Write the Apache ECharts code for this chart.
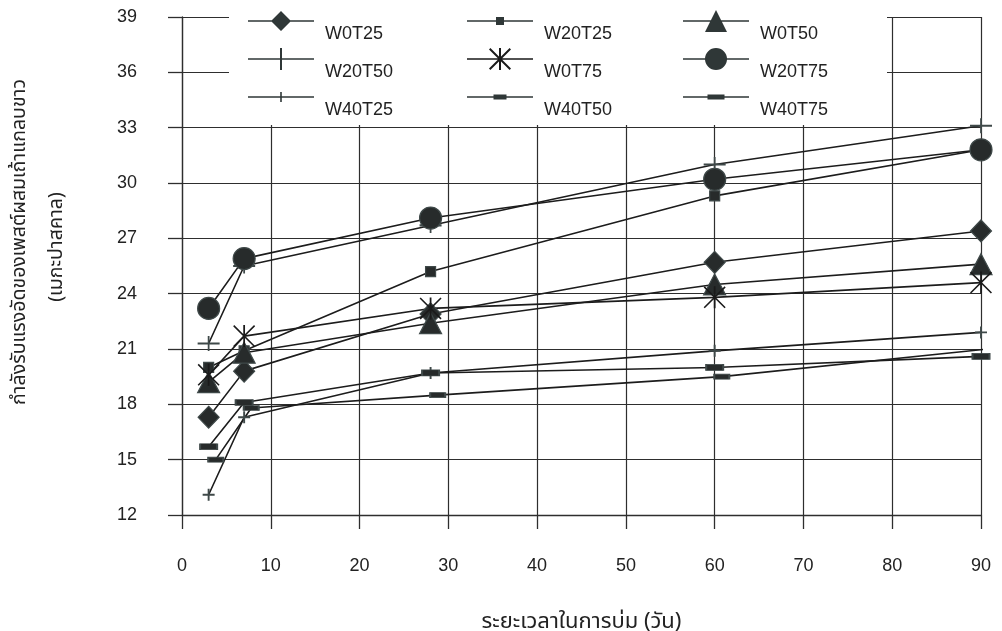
<!DOCTYPE html>
<html>
<head>
<meta charset="utf-8">
<script src="https://cdn.jsdelivr.net/npm/echarts@6/dist/echarts.min.js"></script>
<style>
  html, body { margin: 0; padding: 0; background: #fff; }
  #chart { width: 1002px; height: 631px; }
</style>
</head>
<body>
<div id="chart"></div>
<script>
// Curing age (days) at which each mix was tested
const days = [3, 7, 28, 60, 90];
const daysW40T50 = [3.8, 7.8, 28.8, 60.8, 90.7];

// Compressive strength (MPa) per mix
const W0T25  = [17.3, 19.8, 22.9, 25.7, 27.4];
const W20T25 = [20.0, 20.9, 25.2, 29.3, 31.8];
const W0T50  = [19.2, 20.8, 22.4, 24.5, 25.6];
const W20T50 = [21.3, 25.5, 27.7, 31.0, 33.1];
const W0T75  = [19.6, 21.7, 23.2, 23.8, 24.6];
const W20T75 = [23.2, 25.9, 28.1, 30.2, 31.8];
const W40T25 = [13.1, 17.3, 19.7, 20.9, 21.9];
const W40T50 = [15.0, 17.8, 18.5, 19.5, 21.0];
const W40T75 = [15.7, 18.1, 19.7, 20.0, 20.6];

// Axis ranges and tick steps
const xRange = [0, 90, 10];
const yRange = [12, 39, 3];

// Titles
const xTitle = 'ระยะเวลาในการบ่ม (วัน)';
const yTitle1 = 'กำลังรับแรงอัดของเพสต์ผสมเถ้าแกลบขาว';
const yTitle2 = '(เมกะปาสคาล)';

// Legend columns (row-major reading order across columns)
const legendCols = [
  ['W0T25', 'W20T50', 'W40T25'],
  ['W20T25', 'W0T75', 'W40T50'],
  ['W0T50', 'W20T75', 'W40T75']
];

// ---- styling ----
const FONT = '"Liberation Sans", Arial, Helvetica, sans-serif';
const THAI_FONT = '"Noto Sans Thai", "Loma", "Garuda", "Tlwg Typo", "Norasi", "Liberation Sans", sans-serif';
const LINE_COLOR = '#1c1c1c';
const FILL = '#272b2b';
const EDGE = '#3f4949';
const GRID = '#2e2e2e';

// Marker glyphs for the plot (unit box, stretched to symbolSize)
const PLUS_WIDE  = 'path://M0,43H100V57H0Z M46,0H54V100H46Z';
const PLUS_SMALL = 'path://M0,42H100V58H0Z M42,0H58V100H42Z';
const ASTERISK   = 'path://M46,0H54V100H46Z M0,5L5,0L100,95L95,100Z M95,0L100,5L5,100L0,95Z';

// Legend icons: a 66x52 frame with the line and marker in the top half
const L_LINE = 'M0,12.2H66V13.8H0Z';
const L_FRAME = 'M0,0L0.01,0L0,0.01Z M66,52L65.99,52L66,51.99Z';
const legendMarks = {
  W0T25:  'M33,3L43,13L33,23L23,13Z',
  W20T25: 'M29,9H37V17H29Z',
  W0T50:  'M33,2L44,24L22,24Z',
  W20T50: 'M32,2H34V24H32Z',
  W0T75:  'M32,2H34V24H32Z M22,3.4L23.4,2L44,22.6L42.6,24Z M42.6,2L44,3.4L23.4,24L22,22.6Z',
  W20T75: 'M22,13A11,11 0 1,1 44,13A11,11 0 1,1 22,13Z',
  W40T25: 'M32.2,8H33.8V18H32.2Z',
  W40T50: 'M26.5,10.5H39.5V15.5H26.5Z',
  W40T75: 'M24.5,10.5H41.5V15.5H24.5Z'
};
function legendIcon(name) {
  return 'path://' + L_FRAME + ' ' + L_LINE + ' ' + legendMarks[name];
}

const seriesSpec = [
  { name: 'W0T25',  x: days, y: W0T25,  symbol: 'diamond',  size: [21, 22], solid: true },
  { name: 'W20T25', x: days, y: W20T25, symbol: 'rect',     size: 10,       solid: true },
  { name: 'W0T50',  x: days, y: W0T50,  symbol: 'triangle', size: [22, 21], solid: true },
  { name: 'W20T50', x: days, y: W20T50, symbol: PLUS_WIDE,  size: [22, 15], solid: false, color: EDGE },
  { name: 'W0T75',  x: days, y: W0T75,  symbol: ASTERISK,   size: [22, 22], solid: false, color: '#1a1a1a' },
  { name: 'W20T75', x: days, y: W20T75, symbol: 'circle',   size: 22,       solid: true },
  { name: 'W40T25', x: days, y: W40T25, symbol: PLUS_SMALL, size: [12, 12], solid: false, color: EDGE },
  { name: 'W40T50', x: daysW40T50, y: W40T50, symbol: 'rect', size: [15, 5], solid: true },
  { name: 'W40T75', x: days, y: W40T75, symbol: 'rect',     size: [17, 6],  solid: true }
];

const series = seriesSpec.map(s => ({
  name: s.name,
  type: 'line',
  data: s.x.map((d, i) => [d, s.y[i]]),
  symbol: s.symbol,
  symbolSize: s.size,
  showSymbol: true,
  lineStyle: { color: LINE_COLOR, width: 1.6 },
  itemStyle: s.solid
    ? { color: FILL, borderColor: EDGE, borderWidth: 1.2 }
    : { color: s.color, borderWidth: 0 },
  emphasis: { disabled: true },
  z: 2
}));

const legendLefts = [248, 467, 683];
const legends = legendCols.map((col, ci) => ({
  orient: 'vertical',
  left: legendLefts[ci],
  top: 8,
  padding: 0,
  itemWidth: 66,
  itemHeight: 52,
  itemGap: -14,
  selectedMode: false,
  symbolKeepAspect: true,
  data: col.map(n => ({
    name: n,
    icon: legendIcon(n),
    itemStyle: { color: (n === 'W0T75') ? '#1a1a1a' : '#2f3737', borderWidth: 0 }
  })),
  textStyle: { fontFamily: FONT, fontSize: 18, color: '#222', padding: [0, 0, 0, 6] }
}));

const chart = echarts.init(document.getElementById('chart'), null, { renderer: 'canvas' });
chart.setOption({
  animation: false,
  backgroundColor: '#fff',
  grid: { left: 182, right: 21, top: 17, bottom: 116, containLabel: false, outerBoundsMode: 'none' },
  legend: legends,
  xAxis: {
    type: 'value',
    min: xRange[0], max: xRange[1], interval: xRange[2],
    name: xTitle,
    nameLocation: 'middle',
    nameGap: 98,
    nameTextStyle: { fontFamily: THAI_FONT, fontSize: 22, color: '#222' },
    axisLine: { show: true, lineStyle: { color: GRID, width: 1.3 } },
    axisTick: { show: true, length: 14, lineStyle: { color: GRID, width: 1.3 } },
    axisLabel: { margin: 42, fontFamily: FONT, fontSize: 18, color: '#222' },
    splitLine: { show: true, lineStyle: { color: GRID, width: 1.2 } }
  },
  yAxis: {
    type: 'value',
    min: yRange[0], max: yRange[1], interval: yRange[2],
    axisLine: { show: true, lineStyle: { color: GRID, width: 1.3 } },
    axisTick: { show: true, length: 14, lineStyle: { color: GRID, width: 1.3 } },
    axisLabel: { margin: 45, fontFamily: FONT, fontSize: 18, color: '#222' },
    splitLine: { show: true, lineStyle: { color: GRID, width: 1.2 } }
  },
  graphic: [
    // white panel behind the legend block
    { type: 'rect', left: 229, top: 0, z: 3, silent: true,
      shape: { width: 658, height: 125 }, style: { fill: '#fff' } },
    // two-line vertical axis title
    { type: 'text', x: 21, y: 242, rotation: Math.PI / 2, z: 5, silent: true,
      style: { text: yTitle1, fontFamily: THAI_FONT, fontSize: 19.5, fill: '#222',
               align: 'center', verticalAlign: 'middle' } },
    { type: 'text', x: 58, y: 247, rotation: Math.PI / 2, z: 5, silent: true,
      style: { text: yTitle2, fontFamily: THAI_FONT, fontSize: 19.5, fill: '#222',
               align: 'center', verticalAlign: 'middle' } }
  ],
  series: series
});
</script>
</body>
</html>
